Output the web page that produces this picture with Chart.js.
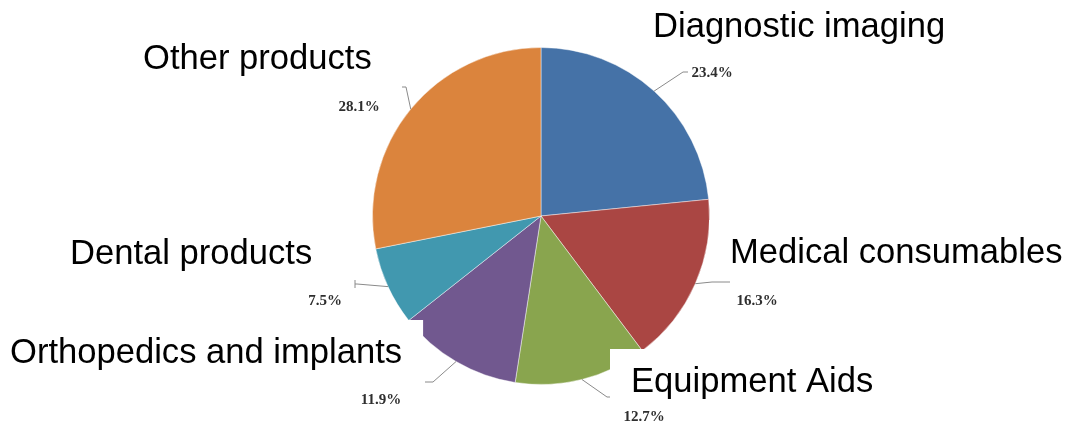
<!DOCTYPE html>
<html>
<head>
<meta charset="utf-8">
<script src="https://cdn.jsdelivr.net/npm/chart.js@4/dist/chart.umd.min.js"></script>
<style>
  body { margin: 0; background: #fff; }
  #wrap { width: 1071px; height: 425px; }
</style>
</head>
<body>
<div id="wrap"><canvas id="pieChart" width="1071" height="425"></canvas></div>
<script>
// datos del gráfico
const categories = ['Diagnostic imaging', 'Medical consumables', 'Equipment Aids',
                    'Orthopedics and implants', 'Dental products', 'Other products'];
const shares = [23.4, 16.3, 12.7, 11.9, 7.5, 28.1];
const percentLabels = ['23.4%', '16.3%', '12.7%', '11.9%', '7.5%', '28.1%'];

const sliceColors = ['#4572a7', '#aa4643', '#89a54e', '#71588f', '#4198af', '#db843d'];

// posiciones de etiquetas (layout)
const catPos = [[653, 37], [730, 263], [631, 392], [10, 363], [70, 264], [143, 69]];
const catBox = [false, true, true, true, false, false];
const pctPos = [[712, 73], [757, 301], [644, 417], [381, 400], [325, 301], [359, 107]];
// puntos del conector: codo y fin
const leaderPts = [
    [[683, 72], [688, 72]],
    [[712, 282], [730, 282]],
    [[607, 397], [615, 397]],
    [[433, 382], [425, 382]],
    [[357, 284], [355, 284]],
    [[406, 87], [402, 87]]
];

const labelPlugin = {
    id: 'pieLabels',
    afterDatasetsDraw(chart) {
        const ctx = chart.ctx;
        const arcs = chart.getDatasetMeta(0).data;
        ctx.save();

        // conectores
        ctx.strokeStyle = '#8a8a8a';
        ctx.lineWidth = 1;
        arcs.forEach((arc, i) => {
            const mid = (arc.startAngle + arc.endAngle) / 2;
            const ex = arc.x + Math.cos(mid) * arc.outerRadius;
            const ey = arc.y + Math.sin(mid) * arc.outerRadius;
            const [elbow, end] = leaderPts[i];
            ctx.beginPath();
            ctx.moveTo(ex, ey);
            ctx.lineTo(elbow[0], elbow[1]);
            ctx.lineTo(end[0], end[1]);
            ctx.stroke();
            if (i === 4) {
                ctx.beginPath();
                ctx.moveTo(end[0], end[1] - 4);
                ctx.lineTo(end[0], end[1] + 4);
                ctx.stroke();
            }
        });

        // porcentajes
        ctx.fillStyle = '#2e2e2e';
        ctx.font = 'bold 15px "Liberation Serif", "Times New Roman", serif';
        ctx.textAlign = 'center';
        ctx.textBaseline = 'middle';
        percentLabels.forEach((t, i) => {
            ctx.fillText(t, pctPos[i][0], pctPos[i][1]);
        });

        // categorías con fondo blanco
        ctx.font = '34.6px "Liberation Sans", Arial, sans-serif';
        ctx.textAlign = 'left';
        ctx.textBaseline = 'alphabetic';
        categories.forEach((t, i) => {
            const [x, y] = catPos[i];
            if (catBox[i]) {
                const w = ctx.measureText(t).width;
                ctx.fillStyle = '#fff';
                ctx.fillRect(x - 21, y - 43, w + 42, 55);
            }
            ctx.fillStyle = '#000';
            ctx.fillText(t, x, y);
        });
        ctx.restore();
    }
};

new Chart(document.getElementById('pieChart'), {
    type: 'pie',
    data: {
        labels: categories,
        datasets: [{
            data: shares,
            backgroundColor: sliceColors,
            borderColor: 'rgba(255,255,255,0.45)',
            borderWidth: 1
        }]
    },
    options: {
        responsive: false,
        animation: false,
        layout: { padding: { left: 200, right: 189, top: 47, bottom: 40 } },
        plugins: {
            legend: { display: false },
            tooltip: { enabled: false }
        }
    },
    plugins: [labelPlugin]
});
</script>
</body>
</html>
